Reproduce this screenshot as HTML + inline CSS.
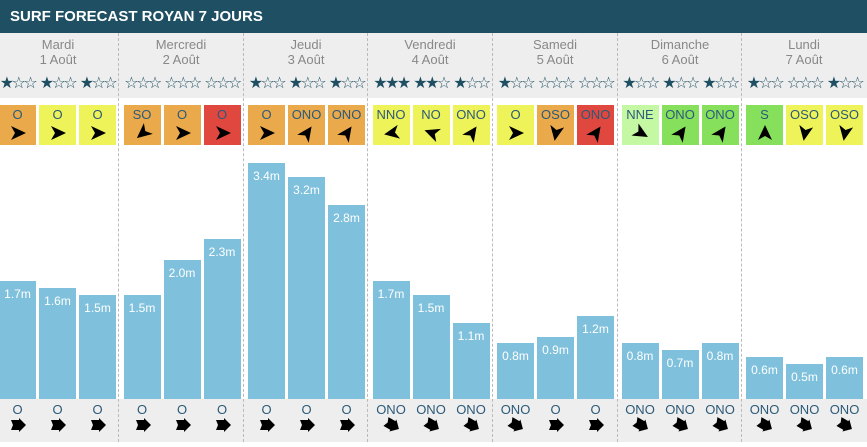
<!DOCTYPE html>
<html><head><meta charset="utf-8"><style>
body{margin:0;width:867px;height:447px;overflow:hidden;background:#fff;font-family:"Liberation Sans",Arial,sans-serif;position:relative}
.hd{position:absolute;left:0;top:0;width:867px;height:33px;background:#1f4f63;color:#fff;font-weight:bold;font-size:15px;line-height:33px;padding-left:10px;box-sizing:border-box}
.g1{position:absolute;left:0;top:33px;width:867px;height:65px;background:#eeeeee}
.g2{position:absolute;left:0;top:399px;width:867px;height:43px;background:#eeeeee}
.sep{position:absolute;top:33px;height:409px;border-left:1px dashed #bbb;width:0}
.day{position:absolute;top:37px;width:124px;text-align:center;color:#888;font-size:13px;line-height:15px}
.c{position:absolute;top:0;width:37px;height:447px}
.st{position:absolute;top:73px;left:-5px;width:47px;text-align:center;font-family:"DejaVu Sans",sans-serif;font-size:16px;letter-spacing:-2.5px;color:#1f4f63;white-space:nowrap}
.bx{position:absolute;top:105px;left:0;width:37px;height:40px;color:#2b5a78;font-size:13px;text-align:center;line-height:20px}
.bx svg{position:absolute;left:10px;top:19px}
.bar{position:absolute;left:0;width:37px;bottom:48px;background:#7fc1dc;color:#fff;font-size:12px;text-align:center;padding-top:6px;box-sizing:border-box}
.bt{position:absolute;top:402px;left:-5px;width:47px;text-align:center;color:#2b5a78;font-size:13px}
.ba{position:absolute;top:417px;left:11px}
.O{background:#eaa94b}.Y{background:#eef35a}.R{background:#e0473f}.L{background:#c5f8a2}.G{background:#86e05c}
</style></head><body>
<svg width="0" height="0" style="position:absolute"><defs>
<polygon id="a" points="2,2 17,9 2,16 6,9"/>
<polygon id="b" points="1,3 9,3 9,1 16,8 9,15 9,13 1,13 3,8"/>
</defs></svg>
<div class="hd">SURF FORECAST ROYAN 7 JOURS</div>
<div class="g1"></div><div class="g2"></div>
<div class="sep" style="left:118px"></div><div class="sep" style="left:243px"></div><div class="sep" style="left:367px"></div><div class="sep" style="left:492px"></div><div class="sep" style="left:617px"></div><div class="sep" style="left:741px"></div>
<div class="day" style="left:-4px">Mardi<br>1 Août</div>
<div class="day" style="left:119px">Mercredi<br>2 Août</div>
<div class="day" style="left:244px">Jeudi<br>3 Août</div>
<div class="day" style="left:368px">Vendredi<br>4 Août</div>
<div class="day" style="left:493px">Samedi<br>5 Août</div>
<div class="day" style="left:618px">Dimanche<br>6 Août</div>
<div class="day" style="left:742px">Lundi<br>7 Août</div>

<!-- D1 -->
<div class="c" style="left:-1px"><div class="st">★☆☆</div><div class="bx O">O<svg width="18" height="18"><use href="#a"/></svg></div><div class="bar" style="top:281px">1.7m</div><div class="bt">O</div><svg class="ba" width="16" height="16"><use href="#b"/></svg></div>
<div class="c" style="left:39px"><div class="st">★☆☆</div><div class="bx Y">O<svg width="18" height="18"><use href="#a"/></svg></div><div class="bar" style="top:288px">1.6m</div><div class="bt">O</div><svg class="ba" width="16" height="16"><use href="#b"/></svg></div>
<div class="c" style="left:79px"><div class="st">★☆☆</div><div class="bx Y">O<svg width="18" height="18"><use href="#a"/></svg></div><div class="bar" style="top:295px">1.5m</div><div class="bt">O</div><svg class="ba" width="16" height="16"><use href="#b"/></svg></div>
<!-- D2 -->
<div class="c" style="left:123.5px"><div class="st">☆☆☆</div><div class="bx O">SO<svg width="18" height="18" style="transform:rotate(140deg)"><use href="#a"/></svg></div><div class="bar" style="top:295px">1.5m</div><div class="bt">O</div><svg class="ba" width="16" height="16"><use href="#b"/></svg></div>
<div class="c" style="left:163.5px"><div class="st">☆☆☆</div><div class="bx O">O<svg width="18" height="18"><use href="#a"/></svg></div><div class="bar" style="top:260px">2.0m</div><div class="bt">O</div><svg class="ba" width="16" height="16"><use href="#b"/></svg></div>
<div class="c" style="left:203.5px"><div class="st">☆☆☆</div><div class="bx R">O<svg width="18" height="18"><use href="#a"/></svg></div><div class="bar" style="top:239px">2.3m</div><div class="bt">O</div><svg class="ba" width="16" height="16"><use href="#b"/></svg></div>
<!-- D3 -->
<div class="c" style="left:248px"><div class="st">★☆☆</div><div class="bx O">O<svg width="18" height="18"><use href="#a"/></svg></div><div class="bar" style="top:163px">3.4m</div><div class="bt">O</div><svg class="ba" width="16" height="16"><use href="#b"/></svg></div>
<div class="c" style="left:288px"><div class="st">★☆☆</div><div class="bx O">ONO<svg width="18" height="18" style="transform:rotate(-55deg)"><use href="#a"/></svg></div><div class="bar" style="top:177px">3.2m</div><div class="bt">O</div><svg class="ba" width="16" height="16"><use href="#b"/></svg></div>
<div class="c" style="left:328px"><div class="st">★☆☆</div><div class="bx O">ONO<svg width="18" height="18" style="transform:rotate(-55deg)"><use href="#a"/></svg></div><div class="bar" style="top:205px">2.8m</div><div class="bt">O</div><svg class="ba" width="16" height="16"><use href="#b"/></svg></div>
<!-- D4 -->
<div class="c" style="left:372.5px"><div class="st">★★★</div><div class="bx Y">NNO<svg width="18" height="18" style="transform:rotate(170deg)"><use href="#a"/></svg></div><div class="bar" style="top:281px">1.7m</div><div class="bt">ONO</div><svg class="ba" width="16" height="16" style="transform:rotate(30deg)"><use href="#b"/></svg></div>
<div class="c" style="left:412.5px"><div class="st">★★☆</div><div class="bx Y">NO<svg width="18" height="18" style="transform:rotate(200deg)"><use href="#a"/></svg></div><div class="bar" style="top:295px">1.5m</div><div class="bt">ONO</div><svg class="ba" width="16" height="16" style="transform:rotate(30deg)"><use href="#b"/></svg></div>
<div class="c" style="left:452.5px"><div class="st">★☆☆</div><div class="bx Y">ONO<svg width="18" height="18" style="transform:rotate(-55deg)"><use href="#a"/></svg></div><div class="bar" style="top:323px">1.1m</div><div class="bt">ONO</div><svg class="ba" width="16" height="16" style="transform:rotate(30deg)"><use href="#b"/></svg></div>
<!-- D5 -->
<div class="c" style="left:497px"><div class="st">★☆☆</div><div class="bx Y">O<svg width="18" height="18"><use href="#a"/></svg></div><div class="bar" style="top:343px">0.8m</div><div class="bt">ONO</div><svg class="ba" width="16" height="16" style="transform:rotate(30deg)"><use href="#b"/></svg></div>
<div class="c" style="left:537px"><div class="st">☆☆☆</div><div class="bx O">OSO<svg width="18" height="18" style="transform:rotate(100deg)"><use href="#a"/></svg></div><div class="bar" style="top:337px">0.9m</div><div class="bt">O</div><svg class="ba" width="16" height="16"><use href="#b"/></svg></div>
<div class="c" style="left:577px"><div class="st">☆☆☆</div><div class="bx R">ONO<svg width="18" height="18" style="transform:rotate(-55deg)"><use href="#a"/></svg></div><div class="bar" style="top:316px">1.2m</div><div class="bt">O</div><svg class="ba" width="16" height="16"><use href="#b"/></svg></div>
<!-- D6 -->
<div class="c" style="left:621.5px"><div class="st">★☆☆</div><div class="bx L">NNE<svg width="18" height="18" style="transform:rotate(30deg)"><use href="#a"/></svg></div><div class="bar" style="top:343px">0.8m</div><div class="bt">ONO</div><svg class="ba" width="16" height="16" style="transform:rotate(30deg)"><use href="#b"/></svg></div>
<div class="c" style="left:661.5px"><div class="st">★☆☆</div><div class="bx G">ONO<svg width="18" height="18" style="transform:rotate(-55deg)"><use href="#a"/></svg></div><div class="bar" style="top:350px">0.7m</div><div class="bt">ONO</div><svg class="ba" width="16" height="16" style="transform:rotate(30deg)"><use href="#b"/></svg></div>
<div class="c" style="left:701.5px"><div class="st">★☆☆</div><div class="bx G">ONO<svg width="18" height="18" style="transform:rotate(-55deg)"><use href="#a"/></svg></div><div class="bar" style="top:343px">0.8m</div><div class="bt">ONO</div><svg class="ba" width="16" height="16" style="transform:rotate(30deg)"><use href="#b"/></svg></div>
<!-- D7 -->
<div class="c" style="left:746px"><div class="st">★☆☆</div><div class="bx G">S<svg width="18" height="18" style="transform:rotate(-90deg)"><use href="#a"/></svg></div><div class="bar" style="top:357px">0.6m</div><div class="bt">ONO</div><svg class="ba" width="16" height="16" style="transform:rotate(30deg)"><use href="#b"/></svg></div>
<div class="c" style="left:786px"><div class="st">☆☆☆</div><div class="bx Y">OSO<svg width="18" height="18" style="transform:rotate(100deg)"><use href="#a"/></svg></div><div class="bar" style="top:364px">0.5m</div><div class="bt">ONO</div><svg class="ba" width="16" height="16" style="transform:rotate(30deg)"><use href="#b"/></svg></div>
<div class="c" style="left:826px"><div class="st">★☆☆</div><div class="bx Y">OSO<svg width="18" height="18" style="transform:rotate(100deg)"><use href="#a"/></svg></div><div class="bar" style="top:357px">0.6m</div><div class="bt">ONO</div><svg class="ba" width="16" height="16" style="transform:rotate(30deg)"><use href="#b"/></svg></div>
</body></html>
